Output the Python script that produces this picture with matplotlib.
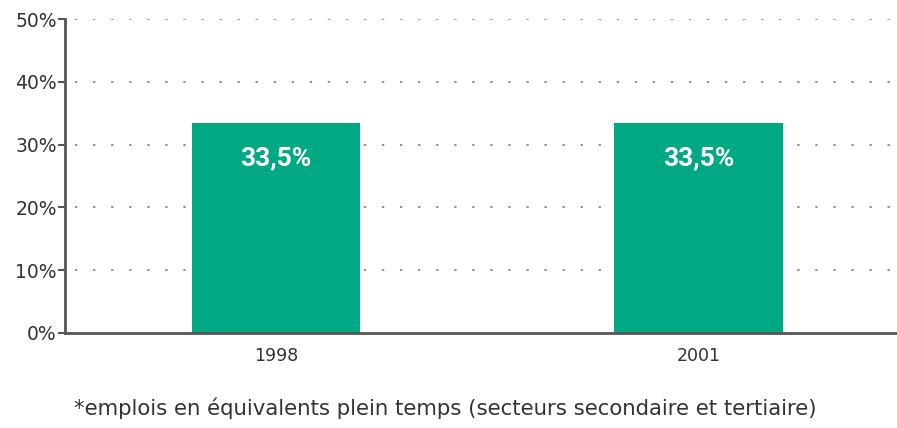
import matplotlib
matplotlib.use("Agg")
import matplotlib.pyplot as plt

years = ["1998", "2001"]
shares = [33.5, 33.5]
bar_labels = ["33,5%", "33,5%"]
yticks = [0, 10, 20, 30, 40, 50]
ytick_labels = ["0%", "10%", "20%", "30%", "40%", "50%"]
note = "*emplois en équivalents plein temps (secteurs secondaire et tertiaire)"

green = "#00a884"
axis_col = "#555555"

fig = plt.figure(figsize=(8.97, 4.28), dpi=100)
ax = fig.add_axes([0.0725, 0.222, 0.9275, 0.7336])

x = range(len(years))
# dotted grid, slightly detached from the left axis
for v in yticks[1:]:
    ax.axhline(v, xmin=0.012, xmax=1, color="#888888", linestyle=(0, (1.3, 8.7)),
               linewidth=1.3, zorder=1)

bars = ax.bar(x, shares, width=0.398, color=green, zorder=2)
for b, lab in zip(bars, bar_labels):
    ax.text(b.get_x() + b.get_width() / 2, b.get_height() - 5.6, lab,
            ha="center", va="center", color="white", fontsize=19,
            fontweight="bold", family=["Roboto", "DejaVu Sans"],
            zorder=3)

ax.set_xlim(-0.5, 1.47)
ax.set_ylim(0, 50)
ax.set_xticks(list(x))
ax.set_xticklabels(years, fontsize=12.5, color="#333333")
ax.set_yticks(yticks)
ax.set_yticklabels(ytick_labels, fontsize=13.5, color="#333333")
ax.tick_params(axis="x", length=0, pad=10)
ax.tick_params(axis="y", length=5, width=1.5, color=axis_col, pad=1)

for s in ["top", "right"]:
    ax.spines[s].set_visible(False)
for s in ["left", "bottom"]:
    ax.spines[s].set_color(axis_col)
    ax.spines[s].set_linewidth(2)
    ax.spines[s].set_zorder(4)

fig.text(0.083, 0.047, note, fontsize=15.3, color="#333333", ha="left", va="center")

fig.savefig("out.png", dpi=100)
